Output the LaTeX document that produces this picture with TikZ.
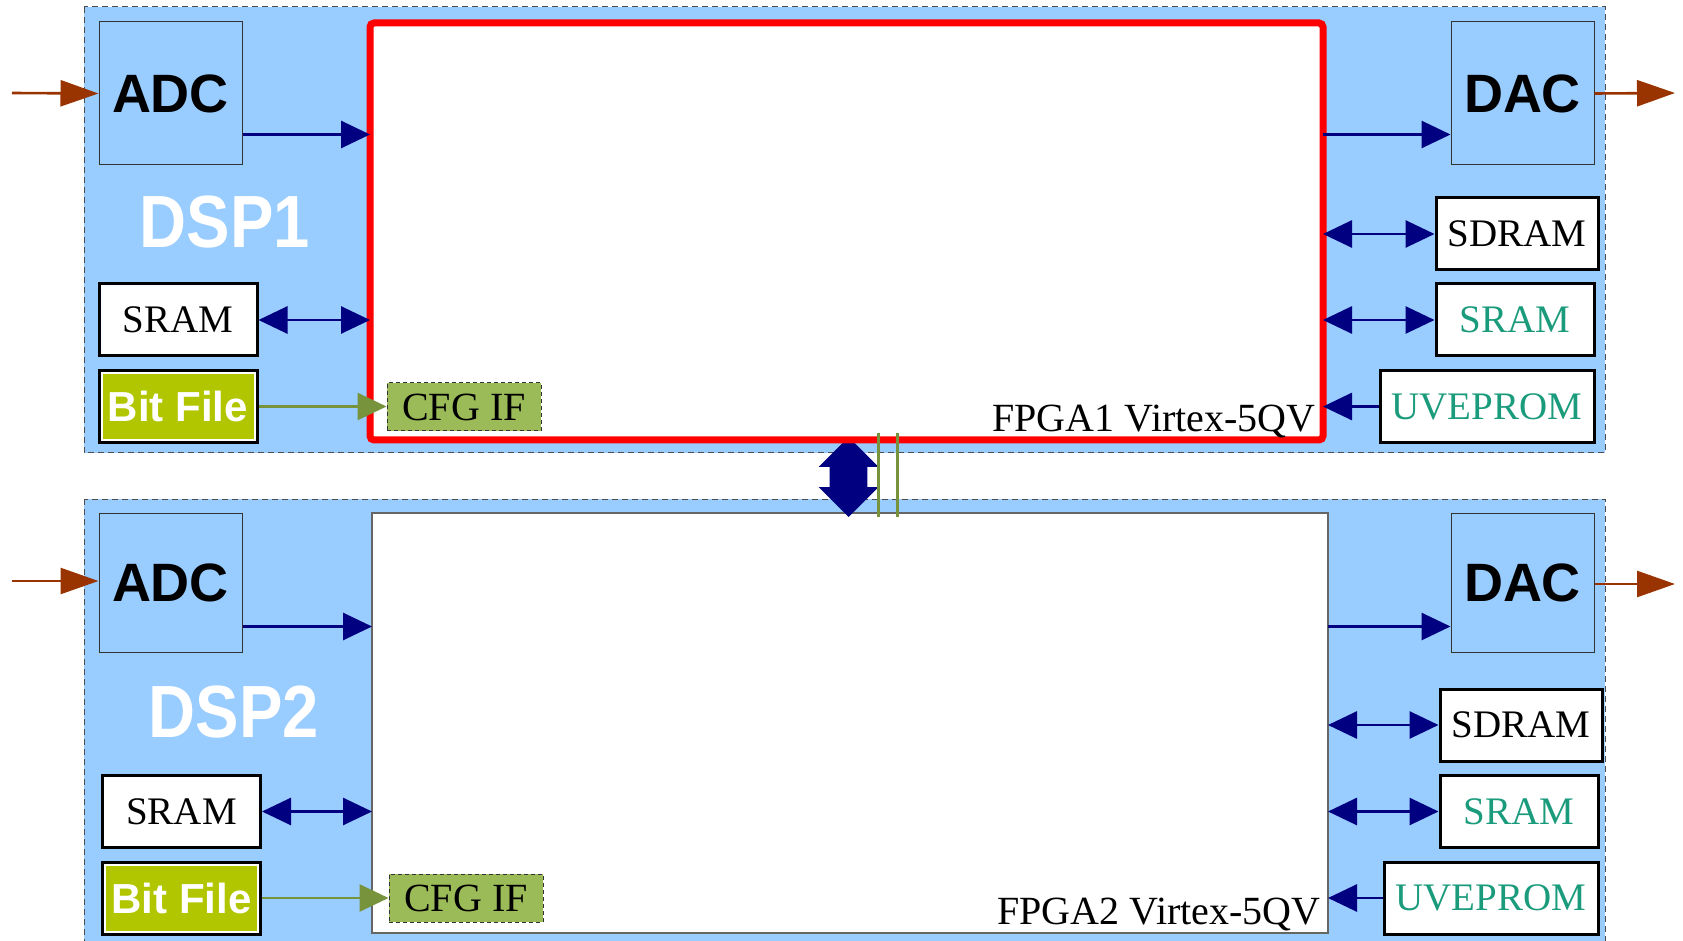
\documentclass[tikz,border=0pt]{standalone}
\usepackage{fontspec}
\setmainfont{Liberation Serif}
\setsansfont{Liberation Sans}
\usetikzlibrary{arrows.meta,shapes.arrows}
\definecolor{panelblue}{HTML}{99CCFF}
\definecolor{navyblue}{HTML}{000080}
\definecolor{sigbrown}{HTML}{993300}
\definecolor{cfgolive}{HTML}{77933C}
\definecolor{cfggreen}{HTML}{9BBB59}
\definecolor{bitgreen}{HTML}{B2C600}
\definecolor{tealtext}{HTML}{1A9B7C}
\tikzset{
	panel/.style={fill=panelblue,draw=black!70,dash pattern=on 3pt off 2pt,line width=0.5pt},
	conv/.style={fill=panelblue,draw=black!80,line width=0.5pt,minimum width=71.5pt,minimum height=71.5pt,inner sep=0pt,font=\sffamily\bfseries\fontsize{27}{27}\selectfont},
	mem/.style={draw=black,fill=white,line width=1.5pt,minimum width=79pt,minimum height=36pt,inner sep=0pt,font=\fontsize{19.5}{20}\selectfont},
	bitbox/.style={draw=black,fill=bitgreen,line width=1.5pt,minimum width=79pt,minimum height=36pt,inner sep=0pt,text=white,font=\sffamily\bfseries\fontsize{21}{21}\selectfont,
		path picture={\draw[white,line width=3.5pt] (path picture bounding box.south west) rectangle (path picture bounding box.north east);}},
	cfg/.style={fill=cfggreen,draw=black!80,dash pattern=on 2pt off 1.5pt,line width=0.5pt,minimum width=77pt,minimum height=24pt,inner sep=0pt,font=\fontsize{20}{20}\selectfont},
	fpgared/.style={draw=red,fill=white,line width=3.5pt,rounded corners=2pt,outer sep=0pt,minimum width=476.5pt,minimum height=208.5pt},
	fpgaplain/.style={draw=black!60,fill=white,line width=0.7pt,outer sep=0pt,minimum width=478pt,minimum height=210pt},
	fpgalabel/.style={anchor=base east,inner sep=0pt,font=\fontsize{20}{20}\selectfont},
	dsplabel/.style={text=white,inner sep=0pt,xscale=0.88,font=\sffamily\bfseries\fontsize{37}{37}\selectfont},
	link/.style={double arrow,fill=navyblue,rotate=90,inner xsep=0pt,inner ysep=9.25pt,minimum height=40pt,minimum width=29.5pt,double arrow head extend=5.5pt,double arrow tip angle=90},
	bus/.style={draw=navyblue,line width=1.4pt,-{Triangle[length=14.5pt,width=13.5pt]}},
	biBus/.style={draw=navyblue,line width=1.4pt,{Triangle[length=14.5pt,width=13.5pt]}-{Triangle[length=14.5pt,width=13.5pt]}},
	sig/.style={draw=sigbrown,line width=1.3pt,-{Triangle[length=19pt,width=13pt]}},
	cfgArrow/.style={draw=cfgolive,line width=1.3pt,-{Triangle[length=14.5pt,width=13.5pt]}}
}
\begin{document}
\begin{tikzpicture}[x=0.5pt,y=-0.5pt]
	\useasboundingbox (0,0) rectangle (1683,941);
	\draw[panel] (84,7) rectangle (1605,453);
	\draw[panel] (84,499) rectangle (1605,950);

	\node[fpgaplain] (fpgaB) at (850,723) {};
	\node[link] (link) at (848.5,477) {};
	\node[fpgared] (fpgaA) at (846.5,231.5) {};
	\node[fpgalabel] (labA) at ([xshift=-3.5pt,yshift=4.5pt]fpgaA.south east) {FPGA1 Virtex-5QV};
	\node[fpgalabel] (labB) at ([xshift=-3.5pt,yshift=4.5pt]fpgaB.south east) {FPGA2 Virtex-5QV};

	\node[conv] (adcA) at (170.5,93.5) {ADC};
	\node[conv] (dacA) at (1522.5,93.5) {DAC};
	\node[conv,minimum height=69.5pt] (adcB) at (170.5,582.5) {ADC};
	\node[conv,minimum height=69.5pt] (dacB) at (1522.5,582.5) {DAC};
	\node[dsplabel] (dspA) at (225,222) {DSP1};
	\node[dsplabel] (dspB) at (234,712) {DSP2};

	\node[mem] (sramLA) at (178,320) {SRAM};
	\node[bitbox] (bitA) at (178,406.5) {Bit File};
	\node[cfg] (cfgA) at (464,407) {CFG IF};
	\node[mem,minimum width=81pt] (sdramA) at (1517,234) {SDRAM};
	\node[mem,text=tealtext] (sramRA) at (1515,320) {SRAM};
	\node[mem,text=tealtext,minimum width=107pt] (uvA) at (1487,406.5) {UVEPROM};

	\node[mem] (sramLB) at (181.5,811.5) {SRAM};
	\node[bitbox] (bitB) at (181.5,898) {Bit File};
	\node[cfg] (cfgB) at (466,898) {CFG IF};
	\node[mem,minimum width=81pt] (sdramB) at (1521,725) {SDRAM};
	\node[mem,text=tealtext] (sramRB) at (1519,811.5) {SRAM};
	\node[mem,text=tealtext,minimum width=107pt] (uvB) at (1491,898) {UVEPROM};

	\coordinate (inA) at (12,93);
	\coordinate (outA) at (1675,93);
	\coordinate (inB) at (12,581);
	\coordinate (outB) at (1675,584);
	\draw[sig] (inA) -- (adcA.west);
	\draw[sig] (dacA.east) -- (outA);
	\draw[sig] (inB) -- (inB -| adcB.west);
	\draw[sig] (outB -| dacB.east) -- (outB);

	\coordinate (busA) at ([yshift=15.5pt]adcA.south east);
	\coordinate (busB) at ([yshift=13pt]adcB.south east);
	\draw[bus] (busA) -- (busA -| fpgaA.west);
	\draw[bus] (busA -| fpgaA.east) -- (busA -| dacA.west);
	\draw[bus] (busB) -- (busB -| fpgaB.west);
	\draw[bus] (busB -| fpgaB.east) -- (busB -| dacB.west);

	\draw[biBus] (sramLA.east) -- (sramLA.east -| fpgaA.west);
	\draw[cfgArrow] (bitA.east) -- (bitA.east -| cfgA.west);
	\draw[biBus] (sdramA.west -| fpgaA.east) -- (sdramA.west);
	\draw[biBus] (sramRA.west -| fpgaA.east) -- (sramRA.west);
	\draw[bus] (uvA.west) -- (uvA.west -| fpgaA.east);

	\draw[biBus] (sramLB.east) -- (sramLB.east -| fpgaB.west);
	\draw[cfgArrow] (bitB.east) -- (bitB.east -| cfgB.west);
	\draw[biBus] (sdramB.west -| fpgaB.east) -- (sdramB.west);
	\draw[biBus] (sramRB.west -| fpgaB.east) -- (sramRB.west);
	\draw[bus] (uvB.west) -- (uvB.west -| fpgaB.east);

	\foreach \x in {878,897}
		\draw[cfgolive,line width=1.5pt] (\x,433) -- (\x,517);
\end{tikzpicture}
\end{document}
